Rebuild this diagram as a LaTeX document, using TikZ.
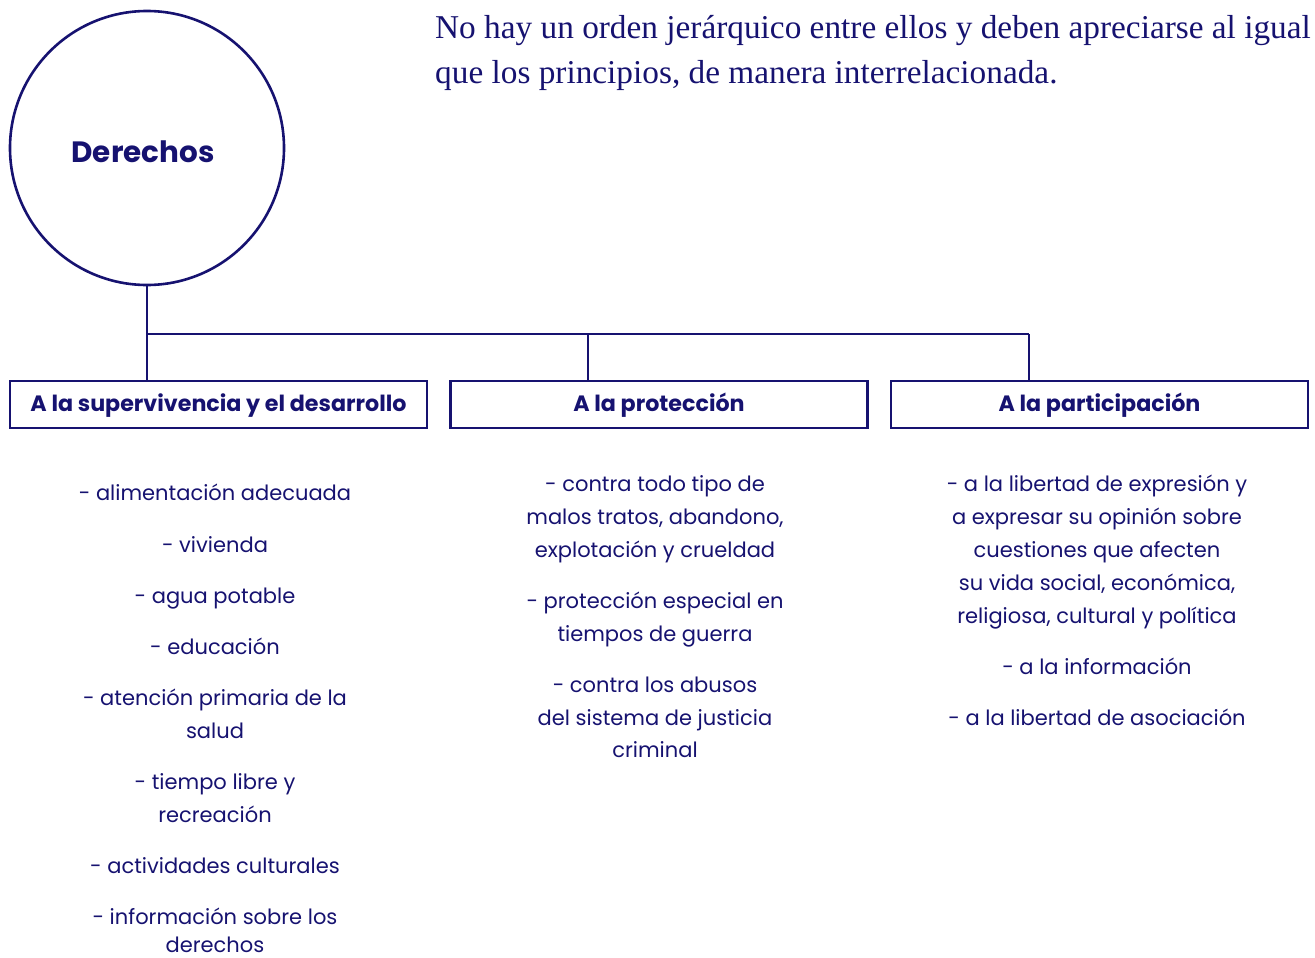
\documentclass[tikz,border=0pt]{standalone}
\usepackage{fontspec}
\setsansfont{Poppins}
\newfontfamily\serifbody{Liberation Serif}
\definecolor{navy}{RGB}{22,18,112}
\tikzset{
  line/.style={draw=navy, line width=2.6pt},
  headbox/.style={draw=navy, line width=2.6pt, minimum width=417pt, minimum height=47pt, inner sep=0pt, text height=17pt, text depth=2.6pt, text=navy, font=\sffamily\bfseries\fontsize{22.2}{26}\selectfont},
  item/.style={anchor=base, inner sep=0pt, text=navy, font=\sffamily\fontsize{21}{24}\selectfont},
  serifline/.style={anchor=base west, inner sep=0pt, text=navy, font=\serifbody\fontsize{33.3}{40}\selectfont}
}
\begin{document}
\begin{tikzpicture}[x=1pt,y=-1pt]
\useasboundingbox (0,0) rectangle (1315,958);
% circle
\node[circle, draw=navy, line width=2.6pt, minimum size=274pt, inner sep=0pt] (root) at (147,148) {};
\node[inner sep=0pt, anchor=base, text=navy, font=\sffamily\bfseries\fontsize{29.4}{34}\selectfont] (rootlabel) at (143,162) {Derechos};
% intro text
\node[serifline] (intro1) at (435,39) {No hay un orden jerárquico entre ellos y deben apreciarse al igual};
\node[serifline] (intro2) at (435,84) {que los principios, de manera interrelacionada.};
% boxes
\node[headbox] (b1) at (218.5,404.5) {A la supervivencia y el desarrollo};
\node[headbox] (b2) at (659,404.5) {A la protección};
\node[headbox] (b3) at (1099.5,404.5) {A la participación};
% connectors
\coordinate (j1) at (147,334);
\coordinate (j2) at (588,334);
\coordinate (j3) at (1029,334);
\draw[line] (root.south) -- (j1) -- (j3);
\draw[line] (j1) -- (b1.north -| j1);
\draw[line] (j2) -- (b2.north -| j2);
\draw[line] (j3) -- (b3.north -| j3);
% column 1
\foreach \t/\y [count=\i] in {{- alimentación adecuada}/500, {- vivienda}/552, {- agua potable}/603, {- educación}/654, {- atención primaria de la}/705, {salud}/738, {- tiempo libre y}/789, {recreación}/822, {- actividades culturales}/873, {- información sobre los}/924, {derechos}/952}
  \node[item] (c1-\i) at (215,\y) {\t};
% column 2
\foreach \t/\y [count=\i] in {{- contra todo tipo de}/491, {malos tratos, abandono,}/524, {explotación y crueldad}/557, {- protección especial en}/608, {tiempos de guerra}/641, {- contra los abusos}/692, {del sistema de justicia}/725, {criminal}/757}
  \node[item] (c2-\i) at (655,\y) {\t};
% column 3
\foreach \t/\y [count=\i] in {{- a la libertad de expresión y}/491, {a expresar su opinión sobre}/524, {cuestiones que afecten}/557, {su vida social, económica,}/590, {religiosa, cultural y política}/623, {- a la información}/674, {- a la libertad de asociación}/725}
  \node[item] (c3-\i) at (1097,\y) {\t};
\end{tikzpicture}
\end{document}
